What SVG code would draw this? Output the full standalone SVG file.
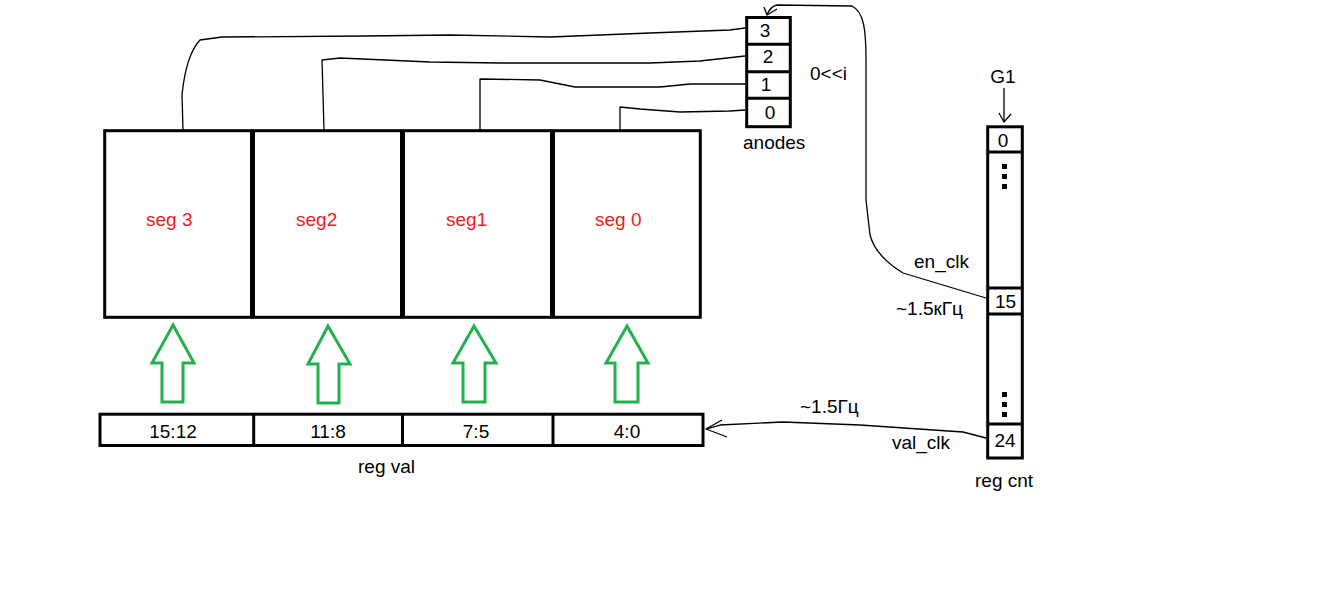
<svg xmlns="http://www.w3.org/2000/svg" width="1325" height="603" viewBox="0 0 1325 603">
<style>
text{font-family:"Liberation Sans",Arial,sans-serif;font-size:19px;fill:#000}
.seg{fill:#ed1c24}
.c{text-anchor:middle}
.box{fill:none;stroke:#000;stroke-width:3}
.div{stroke:#000;stroke-width:3}
.thick{stroke:#000;stroke-width:5}
.wire{fill:none;stroke:#000;stroke-width:1.3;stroke-linejoin:round}
.green{fill:none;stroke:#22b14c;stroke-width:3;stroke-linejoin:miter}
.dot{fill:#000}
</style>
<rect width="1325" height="603" fill="#fff"/>

<g id="segments">
  <rect class="box" x="104.7" y="130.7" width="595.6" height="186.6"/>
  <line class="thick" x1="252.5" y1="130.7" x2="252.5" y2="317.3"/>
  <line class="thick" x1="402.5" y1="130.7" x2="402.5" y2="317.3"/>
  <line class="thick" x1="552.5" y1="130.7" x2="552.5" y2="317.3"/>
  <text class="seg" x="146" y="226">seg 3</text>
  <text class="seg" x="296" y="226">seg2</text>
  <text class="seg" x="446" y="226">seg1</text>
  <text class="seg" x="595" y="226">seg 0</text>
</g>

<g id="anodes">
  <rect class="box" x="746.7" y="17.5" width="43.6" height="109.2"/>
  <line class="div" x1="746.7" y1="44.2" x2="790.3" y2="44.2"/>
  <line class="div" x1="746.7" y1="71.7" x2="790.3" y2="71.7"/>
  <line class="div" x1="746.7" y1="98.3" x2="790.3" y2="98.3"/>
  <text class="c" x="765" y="37">3</text>
  <text class="c" x="768" y="63">2</text>
  <text class="c" x="766" y="91">1</text>
  <text class="c" x="770" y="119">0</text>
  <text x="743" y="149">anodes</text>
  <text x="810" y="80">0&lt;&lt;i</text>
</g>

<g id="reg_cnt">
  <rect class="box" x="987.7" y="126.8" width="34.6" height="331.2"/>
  <line class="div" x1="987.7" y1="152" x2="1022.3" y2="152"/>
  <line class="div" x1="987.7" y1="288" x2="1022.3" y2="288"/>
  <line class="div" x1="987.7" y1="314" x2="1022.3" y2="314"/>
  <line class="div" x1="987.7" y1="424" x2="1022.3" y2="424"/>
  <rect class="dot" x="1002" y="164" width="5" height="5"/>
  <rect class="dot" x="1002" y="174" width="5" height="5"/>
  <rect class="dot" x="1002" y="184" width="5" height="5"/>
  <rect class="dot" x="1002" y="392" width="5" height="5"/>
  <rect class="dot" x="1002" y="402" width="5" height="5"/>
  <rect class="dot" x="1002" y="412" width="5" height="5"/>
  <text class="c" x="1003" y="147">0</text>
  <text class="c" x="1005.5" y="308">15</text>
  <text class="c" x="1005" y="447">24</text>
  <text x="975" y="487">reg cnt</text>
  <text class="c" x="1003" y="83">G1</text>
</g>

<g id="reg_val">
  <rect class="box" x="100" y="414.2" width="603" height="31.3"/>
  <line class="div" x1="253.7" y1="414.2" x2="253.7" y2="445.5"/>
  <line class="div" x1="402.5" y1="414.2" x2="402.5" y2="445.5"/>
  <line class="div" x1="553" y1="414.2" x2="553" y2="445.5"/>
  <text class="c" x="173" y="438">15:12</text>
  <text class="c" x="328" y="438">11:8</text>
  <text class="c" x="476" y="438">7:5</text>
  <text class="c" x="627" y="438">4:0</text>
  <text x="358" y="473">reg val</text>
</g>

<g id="green_arrows">
  <polygon class="green" points="173,325 194,363 183,363 183,402 162,402 162,363 152,363"/>
  <polygon class="green" points="328,326 350,364 339,364 339,403 318,403 318,364 308,364"/>
  <polygon class="green" points="474,326 496,363 485,363 485,402 463,402 463,363 453,363"/>
  <polygon class="green" points="627,326 648,363 638,363 638,402 615,402 615,363 606,363"/>
</g>

<g id="connectors">
  <path class="wire" d="M183,130 L182,95 Q186,55 200,40 L222,37 L365,36 L450,35 L550,37 L650,33 L730,30 L745,28"/>
  <path class="wire" d="M324,130 L322,60 L340,58 L430,62 L500,63 L650,63 L700,61 L745,56"/>
  <path class="wire" d="M480,130 L480,79 L540,80 L575,87 L660,87 L690,84 L745,84"/>
  <path class="wire" d="M620,130 L620,107 L640,109 L680,112 L730,111 L745,110"/>
  <path class="wire" d="M986,298 L903,273 C885,262 874,250 870,235 L866,200 L866,60 C866,30 864,12 852,6 L777,5 C772,6 769,10 767,15"/>
  <path class="wire" d="M764,7 L767,15 L777,9"/>
  <path class="wire" d="M986,438 L963,432 L860,425 L783,422 L720,425 L706,429"/>
  <path class="wire" d="M722,420 L706,429 L727,437"/>
  <path class="wire" d="M1004,88 L1004,122"/>
  <path class="wire" d="M999,113 L1004,122 L1011,114"/>
  <text x="914" y="268">en_clk</text>
  <text x="896" y="315">~1.5кГц</text>
  <text x="800" y="413">~1.5Гц</text>
  <text x="892" y="449">val_clk</text>
</g>
</svg>
